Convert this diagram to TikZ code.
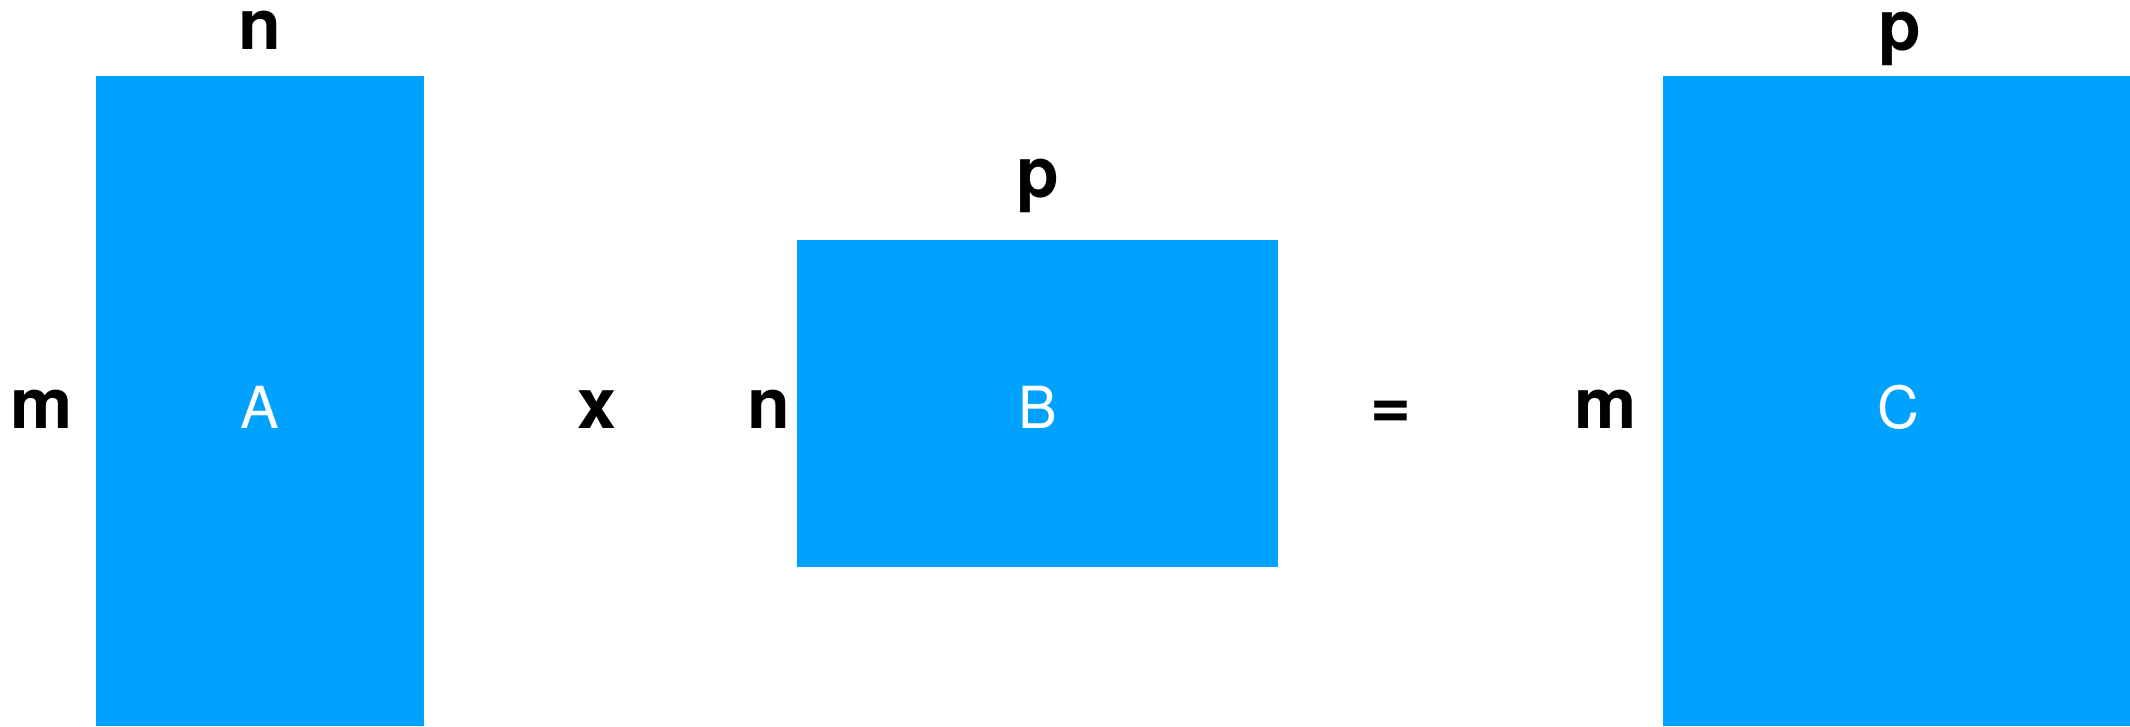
\documentclass[tikz,border=0pt]{standalone}
\usepackage{fontspec}
\setmainfont{TeX Gyre Heros}
\definecolor{matblue}{RGB}{0,162,255}
\tikzset{
  matrixbox/.style={fill=matblue, draw=none},
  dimlabel/.style={font=\bfseries\fontsize{70}{70}\selectfont, text=black, inner sep=0pt, anchor=base},
  matname/.style={font=\fontsize{58}{58}\selectfont, text=white, inner sep=0pt, anchor=base},
}
\begin{document}
\begin{tikzpicture}[x=1pt,y=-1pt]
\useasboundingbox (0,0) rectangle (2130,726);
% matrices
\fill[matrixbox] (96,76) rectangle (424,726);
\fill[matrixbox] (797,240) rectangle (1278,567);
\fill[matrixbox] (1663,76) rectangle (2130,726);
\coordinate (Acen) at (260,406);
% names
\node[matname] (A) at (260,428) {A};
\node[matname] (B) at (1038,428) {B};
\node[matname] (C) at (1898,428) {C};
% dimension labels
\node[dimlabel] (nA) at (260,49) {n};
\node[dimlabel] (mA) at (42,428) {m};
\node[dimlabel] (times) at (597,428) {x};
\node[dimlabel] (nB) at (769,428) {n};
\node[dimlabel] (pB) at (1038,197) {p};
\node[dimlabel] (eq) at (1391,428) {=};
\node[dimlabel] (mC) at (1606,428) {m};
\node[dimlabel] (pC) at (1900,50) {p};
\end{tikzpicture}
\end{document}
